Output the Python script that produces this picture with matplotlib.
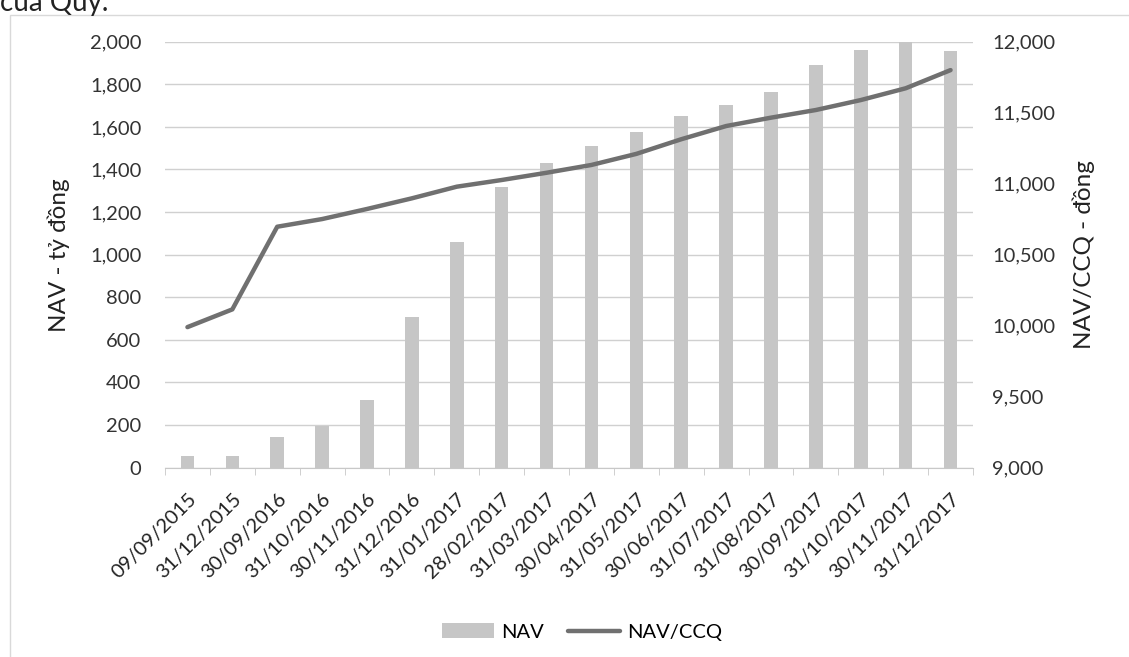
import matplotlib
matplotlib.use("Agg")
import matplotlib.pyplot as plt
import numpy as np
from matplotlib.patches import Rectangle
from matplotlib.ticker import FuncFormatter, FixedLocator

dates = ["09/09/2015", "31/12/2015", "30/09/2016", "31/10/2016", "30/11/2016",
         "31/12/2016", "31/01/2017", "28/02/2017", "31/03/2017", "30/04/2017",
         "31/05/2017", "30/06/2017", "31/07/2017", "31/08/2017", "30/09/2017",
         "31/10/2017", "30/11/2017", "31/12/2017"]
nav = [56, 56, 146, 196, 318, 707, 1059, 1318, 1431, 1512, 1575, 1649, 1704,
       1762, 1892, 1962, 2010, 1955]
nav_ccq = [9990, 10115, 10697, 10751, 10822, 10897, 10979, 11026, 11077, 11132,
           11210, 11313, 11406, 11465, 11519, 11589, 11672, 11800]

plt.rcParams['font.family'] = ['Lato', 'DejaVu Sans']

fig = plt.figure(figsize=(11.29, 6.57), dpi=100)
fig.patch.set_facecolor('white')

# outer chart border
fig.patches.append(Rectangle((10/1129, -0.01), 1.2, 1 - 15/657 + 0.01,
                             transform=fig.transFigure, fill=False,
                             edgecolor='#d9d9d9', linewidth=1.0))
fig.text(0/1129, 1 - 11/657, "của Quỹ.", fontsize=20, color='#222222',
         va='baseline', ha='left')

ax = fig.add_axes([165/1129, 1 - 467.7/657, (973 - 165)/1129, (467.7 - 41.7)/657])
x = np.arange(len(dates))
ax.bar(x, nav, width=0.3, color='#c6c6c6', label='NAV', zorder=2)
ax.set_xlim(-0.5, len(dates) - 0.5)
ax.set_ylim(0, 2000)
ax.set_yticks(np.arange(0, 2001, 200))
ax.yaxis.set_major_formatter(FuncFormatter(lambda v, p: f"{int(v):,}"))
ax.grid(axis='y', color='#d0d0d0', linewidth=1.0, zorder=0)
ax.set_axisbelow(True)
for s in ['top', 'right', 'left']:
    ax.spines[s].set_visible(False)
ax.spines['bottom'].set_color('#c8c8c8')
ax.tick_params(axis='y', length=0, pad=17, labelsize=14.5, labelcolor='#333333')
ax.set_xticks(x)
ax.set_xticklabels(dates, rotation=45, ha='right', rotation_mode='anchor',
                   fontsize=14.5, color='#222222')
ax.tick_params(axis='x', which='major', length=0, pad=16)
ax.xaxis.set_minor_locator(FixedLocator(np.arange(-0.5, len(dates), 1.0)))
ax.tick_params(axis='x', which='minor', length=5, color='#c8c8c8')
ax.set_ylabel("NAV - tỷ đồng", fontsize=17.5, color='#222222', labelpad=14)

ax2 = ax.twinx()
ax2.plot(x, nav_ccq, color='#707070', linewidth=3.2, label='NAV/CCQ',
         solid_capstyle='round', zorder=3)
ax2.set_ylim(9000, 12000)
ax2.set_yticks(np.arange(9000, 12001, 500))
ax2.yaxis.set_major_formatter(FuncFormatter(lambda v, p: f"{int(v):,}"))
for s in ['top', 'right', 'left', 'bottom']:
    ax2.spines[s].set_visible(False)
ax2.tick_params(axis='y', length=0, pad=14, labelsize=14.5, labelcolor='#333333')
ax2.set_ylabel("NAV/CCQ - đồng", fontsize=17.5, color='#222222', labelpad=12)

h1, l1 = ax.get_legend_handles_labels()
h2, l2 = ax2.get_legend_handles_labels()
fig.legend(h1 + h2, l1 + l2, loc='center', bbox_to_anchor=(582/1129, 1 - 632/657),
           ncol=2, frameon=False, fontsize=14.5, handlelength=2.6,
           columnspacing=1.2, handletextpad=0.35)

fig.savefig("out.png", dpi=100, facecolor='white')
